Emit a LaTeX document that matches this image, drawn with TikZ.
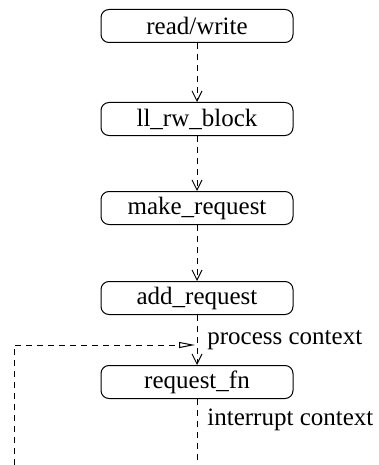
\documentclass[tikz,border=0pt]{standalone}
\usepackage{fontspec}
\setmainfont{Liberation Serif}
\newfontfamily\timesf{Liberation Serif}
\usetikzlibrary{arrows.meta}
\begin{document}
\begin{tikzpicture}[x=0.5pt,y=-0.5pt,
  box/.style={draw, rounded corners=4pt, minimum width=96pt, minimum height=16.5pt, inner sep=0pt, font=\timesf\fontsize{12.5}{15}\selectfont, line width=0.5pt},
  lbl/.style={anchor=west, inner sep=0pt, font=\timesf\fontsize{12.5}{15}\selectfont},
  dline/.style={dash pattern=on 3pt off 2.5pt, line width=0.5pt},
  flow/.style={dline, -{Straight Barb[length=5pt,width=5pt]}},
  back/.style={dline, -{Triangle[open,length=8pt,width=3pt]}}
]
\useasboundingbox (0,0) rectangle (379,465);
\node[box] (rw) at (197,26) {read/write};
\node[box] (ll) at (197,119) {ll\_rw\_block};
\node[box] (mr) at (197,208) {make\_request};
\node[box] (ar) at (197,298) {add\_request};
\node[box] (rf) at (197,382) {request\_fn};
\node[lbl] (pc) at (207,340) {process context};
\node[lbl] (ic) at (207,420) {interrupt context};
\coordinate (cross) at (195,345);
\coordinate (lt) at (14,345);
\coordinate (lb) at (14,465);
\coordinate (bot) at (197,465);
\draw[flow] (rw) -- (ll);
\draw[flow] (ll) -- (mr);
\draw[flow] (mr) -- (ar);
\draw[flow] (ar) -- (rf);
\draw[dline] (rf) -- (bot);
\draw[back] (lb) -- (lt) -- (cross);
\end{tikzpicture}
\end{document}
